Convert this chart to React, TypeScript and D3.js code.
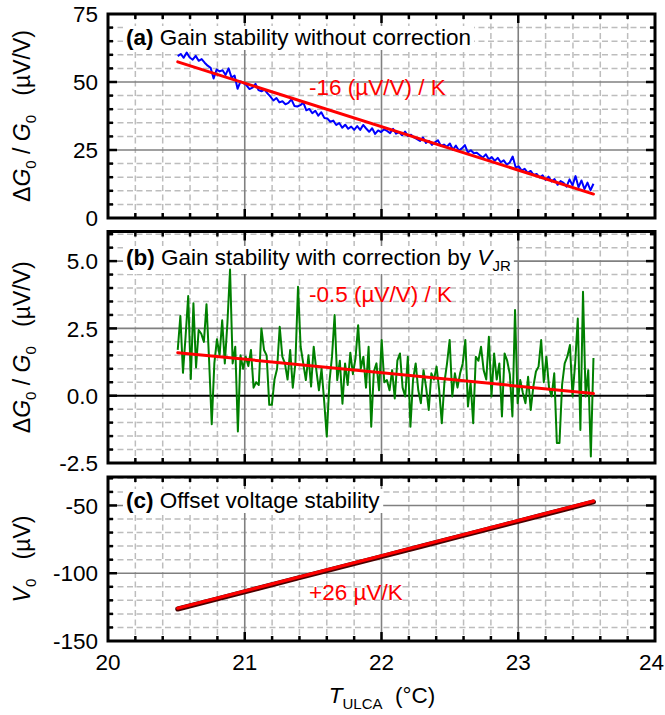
import React, { useEffect, useRef } from 'react';
import * as d3 from 'd3';

// ---------- data ----------
const T_START = 20.51;
const T_END = 23.55;

const xTicks = [20, 21, 22, 23, 24];
const yTicksA = [0, 25, 50, 75];
const yTicksB = [-2.5, 0, 2.5, 5];
const yTicksC = [-150, -100, -50];

// (a) gain without correction (µV/V), evenly spaced from T_START to T_END
const gainRaw = [
  59.5, 60.3, 58.9, 60.8, 59.0, 58.2, 59.6, 57.8, 58.4, 57.1,
  56.0, 55.2, 51.3, 54.6, 53.9, 54.3, 52.6, 55.0, 51.6, 52.4,
  47.5, 50.2, 49.6, 48.8, 47.4, 47.9, 49.3, 47.0, 46.6, 47.2,
  45.8, 44.6, 43.2, 44.1, 42.5, 42.9, 41.8, 42.3, 43.6, 41.2,
  41.0, 41.5, 42.4, 39.6, 40.1, 38.5, 39.4, 37.6, 38.9, 36.8,
  36.6, 35.4, 35.8, 34.2, 34.9, 33.2, 34.3, 32.8, 33.6, 32.4,
  33.8, 32.4, 34.2, 32.9, 31.7, 33.0, 30.9, 32.2, 31.6, 32.6,
  32.0, 31.2, 32.8, 31.0, 31.6, 30.4, 31.8, 30.1, 30.6, 29.6,
  29.0, 28.3, 29.6, 27.6, 28.4, 26.9, 27.8, 28.6, 26.5, 27.0,
  26.2, 27.4, 25.1, 26.6, 24.8, 25.6, 26.8, 24.1, 24.9, 23.8,
  24.0, 23.1, 22.2, 23.4, 21.6, 22.4, 21.0, 22.1, 20.5, 21.2,
  19.6, 20.4, 22.6, 18.6, 19.0, 17.4, 18.1, 16.6, 17.3, 15.8,
  16.2, 14.9, 15.7, 14.0, 15.2, 13.4, 14.3, 12.2, 13.6, 12.9,
  11.5, 14.2, 12.0, 15.4, 11.3, 13.8, 10.6, 13.0, 10.2, 12.6,
];

// (b) gain with correction by V_JR (µV/V)
const gainCorr = [
  1.70, 2.96, 0.85, 2.20, 3.70, 0.62, 3.43, 1.05, 2.44, 2.30,
  2.00, 3.40, 1.30, -1.06, 1.20, 2.10, 1.50, 2.80, 1.20, 2.70,
  4.69, 1.20, 1.82, -1.33, 1.50, 1.00, 1.45, 1.10, 1.70, 0.30,
  0.50, 0.40, 2.50, 1.70, 1.50, -0.34, -0.34, 0.60, 1.00, 2.56,
  1.45, 1.20, 0.60, 1.70, 0.30, 1.20, 4.05, 1.82, 1.20, 0.58,
  1.50, 0.34, 1.82, 0.95, 0.20, 1.00, -0.20, -1.52, 0.50, 1.45,
  3.00, 0.58, 1.30, -0.30, 1.20, 0.40, 1.60, 0.80, 1.40, 2.62,
  1.00, 1.45, 0.30, 1.82, -1.15, 0.90, 1.20, 0.20, 2.07, 0.50,
  0.58, 0.20, 0.95, -0.10, 1.30, 1.57, 0.30, -0.03, 1.45, -1.15,
  0.60, 1.20, 0.20, -0.28, 0.95, 0.30, -0.53, 0.83, 0.60, 1.08,
  0.20, -1.02, 0.50, 1.20, 2.07, -0.03, 0.83, 0.30, 0.83, 1.20,
  2.07, -0.40, 0.50, -1.02, 1.45, 1.30, 1.82, 0.95, 0.60, 2.19,
  -0.03, 1.57, 0.60, 1.20, -0.77, 1.57, 1.30, 0.80, -0.77, 3.18,
  -0.28, 0.58, 0.10, -0.28, 0.70, -0.53, 0.34, 0.90, 1.08, 2.07,
  0.50, 1.45, 0.30, -0.03, 0.83, -1.76, -1.76, 0.40, 1.20, 1.45,
  1.88, -0.03, 1.20, 2.87, -1.27, 3.86, -0.03, 0.95, -2.26, 1.40,
];

// (c) offset voltage (µV)
const offsetT = [20.51, 20.8, 21.1, 21.4, 21.7, 22.0, 22.3, 22.6, 22.9, 23.2, 23.55];
const offsetV = [-126.4, -118.9, -111.1, -103.3, -95.5, -87.7, -79.9, -72.1, -64.3, -56.5, -47.4];

// linear fits: value at T_START and at T_END
const fitA = [57.4, 8.8];
const fitB = [1.6, 0.08];
const fitC = [-125.8, -46.8];

const FONT = "'Liberation Sans', Arial, Helvetica, sans-serif";

function evenT(n: number) {
  return d3.range(n).map((i) => T_START + (i * (T_END - T_START)) / (n - 1));
}

export default function App() {
  const ref = useRef<SVGSVGElement>(null);

  useEffect(() => {
    const svg = d3.select(ref.current);
    svg.selectAll('*').remove();

    const x = d3.scaleLinear().domain([20, 24]).range([108, 655]);
    const X0 = x(20);
    const X1 = x(24);

    const xMinor = d3.range(20, 24.0001, 0.2).filter((v) => Math.abs(v - Math.round(v)) > 1e-6);
    const xMajorInner = xTicks.filter((v) => v > 20 && v < 24);

    type Panel = {
      key: string;
      domain: [number, number];
      range: [number, number];
      major: number;
      minor: number;
      ticks: number[];
      fmt: (v: number) => string;
    };

    const panels: Panel[] = [
      { key: 'a', domain: [0, 75], range: [218, 14], major: 25, minor: 5, ticks: yTicksA, fmt: (v) => String(v) },
      { key: 'b', domain: [-2.5, 6.1], range: [463, 231.5], major: 2.5, minor: 0.5, ticks: yTicksB, fmt: (v) => v.toFixed(1) },
      { key: 'c', domain: [-150, -29], range: [641, 477], major: 50, minor: 10, ticks: yTicksC, fmt: (v) => String(v) },
    ];

    const scales: Record<string, d3.ScaleLinear<number, number>> = {};

    panels.forEach((p) => {
      const y = d3.scaleLinear().domain(p.domain).range(p.range);
      scales[p.key] = y;
      const g = svg.append('g').attr('class', 'panel-' + p.key);
      const Y0 = p.range[1];
      const Y1 = p.range[0];
      const isMajor = (v: number) => Math.abs(v / p.major - Math.round(v / p.major)) < 1e-6;
      const yAll = d3
        .range(Math.ceil(p.domain[0] / p.minor) * p.minor, p.domain[1] + 1e-9, p.minor)
        .map((v) => +v.toFixed(6))
        .filter((v) => v > p.domain[0] + 1e-6 && v < p.domain[1] - 1e-6);
      const yMinor = yAll.filter((v) => !isMajor(v));
      const yMajor = yAll.filter((v) => isMajor(v));

      // minor grid
      const gm = g.append('g').attr('stroke', '#bdbdbd').attr('stroke-width', 1.5).attr('stroke-dasharray', '6 3.5');
      xMinor.forEach((v) => gm.append('line').attr('x1', x(v)).attr('x2', x(v)).attr('y1', Y0).attr('y2', Y1));
      yMinor.forEach((v) => gm.append('line').attr('x1', X0).attr('x2', X1).attr('y1', y(v)).attr('y2', y(v)));
      // major grid
      const gM = g.append('g').attr('stroke', '#808080').attr('stroke-width', 1.6);
      xMajorInner.forEach((v) => gM.append('line').attr('x1', x(v)).attr('x2', x(v)).attr('y1', Y0).attr('y2', Y1));
      yMajor.forEach((v) => {
        if (p.key === 'b' && Math.abs(v) < 1e-9) return;
        gM.append('line').attr('x1', X0).attr('x2', X1).attr('y1', y(v)).attr('y2', y(v));
      });
      if (p.key === 'b') {
        g.append('line').attr('x1', X0).attr('x2', X1).attr('y1', y(0)).attr('y2', y(0))
          .attr('stroke', '#000').attr('stroke-width', 2);
      }

      // y tick labels
      p.ticks.forEach((v) => {
        g.append('text').attr('x', 98).attr('y', y(v)).attr('dy', '0.36em')
          .attr('text-anchor', 'end').attr('font-family', FONT).attr('font-size', 22.5).attr('fill', '#000')
          .text(p.fmt(v));
      });

      (p as any).yMinor = yMinor;
      (p as any).yMajor = yMajor;
      (p as any).g = g;
    });

    // ---------- titles with white boxes ----------
    const addTitle = (g: any, yBase: number, build: (t: any) => void) => {
      const t = g.append('text').attr('x', 126).attr('y', yBase).attr('font-family', FONT)
        .attr('font-size', 22.5).attr('fill', '#000');
      build(t);
      const bb = (t.node() as SVGTextElement).getBBox();
      g.insert('rect', () => t.node())
        .attr('x', bb.x - 3).attr('y', bb.y + 1).attr('width', bb.width + 6).attr('height', bb.height - 1)
        .attr('fill', '#fff');
    };
    const pg = (k: string) => (panels.find((p) => p.key === k) as any).g;

    addTitle(pg('a'), 45, (t) => {
      t.append('tspan').attr('font-weight', 'bold').text('(a)');
      t.append('tspan').text('\u00a0Gain stability without correction');
    });
    addTitle(pg('b'), 265, (t) => {
      t.append('tspan').attr('font-weight', 'bold').text('(b)');
      t.append('tspan').text('\u00a0Gain stability with correction by\u00a0');
      t.append('tspan').attr('font-style', 'italic').text('V');
      t.append('tspan').attr('font-size', 15).attr('dy', 6).text('JR');
    });
    addTitle(pg('c'), 508, (t) => {
      t.append('tspan').attr('font-weight', 'bold').text('(c)');
      t.append('tspan').text('\u00a0Offset voltage stability');
    });

    // ---------- data ----------
    const yA = scales['a'];
    const yB = scales['b'];
    const yC = scales['c'];

    const tA = evenT(gainRaw.length);
    const lineA = d3.line<number>().x((_, i) => x(tA[i])).y((d) => yA(d));
    pg('a').append('path').attr('d', lineA(gainRaw)).attr('fill', 'none')
      .attr('stroke', '#0000ff').attr('stroke-width', 2).attr('stroke-linejoin', 'round');

    const tB = evenT(gainCorr.length);
    const lineB = d3.line<number>().x((_, i) => x(tB[i])).y((d) => yB(d));
    pg('b').append('path').attr('d', lineB(gainCorr)).attr('fill', 'none')
      .attr('stroke', '#008000').attr('stroke-width', 2).attr('stroke-linejoin', 'round');

    const lineC = d3.line<number>().x((_, i) => x(offsetT[i])).y((d) => yC(d));
    pg('c').append('path').attr('d', lineC(offsetV)).attr('fill', 'none')
      .attr('stroke', '#4a0000').attr('stroke-width', 5).attr('stroke-linecap', 'round');

    // fits
    const fitLine = (g: any, ys: any, f: number[], w: number) =>
      g.append('line').attr('x1', x(T_START)).attr('x2', x(T_END)).attr('y1', ys(f[0])).attr('y2', ys(f[1]))
        .attr('stroke', '#ff0000').attr('stroke-width', w).attr('stroke-linecap', 'round');
    fitLine(pg('a'), yA, fitA, 3);
    fitLine(pg('b'), yB, fitB, 3);
    fitLine(pg('c'), yC, fitC, 3.2);

    // red annotations
    const red = (g: any, xx: number, yy: number, s: string) =>
      g.append('text').attr('x', xx).attr('y', yy).attr('font-family', FONT).attr('font-size', 22.5)
        .attr('fill', '#ff0000').text(s);
    red(pg('a'), 309, 95, '-16 (\u00b5V/V)\u00a0/\u00a0K');
    red(pg('b'), 309, 302, '-0.5 (\u00b5V/V)\u00a0/\u00a0K');
    red(pg('c'), 309, 600, '+26 \u00b5V/K');

    // ---------- borders and ticks ----------
    panels.forEach((p: any) => {
      const g = p.g;
      const y = scales[p.key];
      const Y0 = p.range[1];
      const Y1 = p.range[0];
      const tk = g.append('g').attr('stroke', '#000').attr('stroke-width', 2.5);
      const majL = 9;
      const minL = 5;
      const xT = [...xMinor.map((v) => [v, minL]), ...xMajorInner.map((v) => [v, majL])];
      xT.forEach(([v, L]) => {
        tk.append('line').attr('x1', x(v)).attr('x2', x(v)).attr('y1', Y1).attr('y2', Y1 - L);
        tk.append('line').attr('x1', x(v)).attr('x2', x(v)).attr('y1', Y0).attr('y2', Y0 + L);
      });
      const yT = [...p.yMinor.map((v: number) => [v, minL]), ...p.yMajor.map((v: number) => [v, majL])];
      yT.forEach(([v, L]: number[]) => {
        tk.append('line').attr('x1', X0).attr('x2', X0 + L).attr('y1', y(v)).attr('y2', y(v));
        tk.append('line').attr('x1', X1).attr('x2', X1 - L).attr('y1', y(v)).attr('y2', y(v));
      });
      g.append('rect').attr('x', X0).attr('y', Y0).attr('width', X1 - X0).attr('height', Y1 - Y0)
        .attr('fill', 'none').attr('stroke', '#000').attr('stroke-width', 3);
    });

    // x tick labels (last one kept inside the picture)
    xTicks.forEach((v, i) => {
      const last = i === xTicks.length - 1;
      svg.append('text').attr('x', last ? 664 : x(v)).attr('y', 670)
        .attr('text-anchor', last ? 'end' : 'middle')
        .attr('font-family', FONT).attr('font-size', 22.5).text(String(v));
    });

    // x axis title
    const xt = svg.append('text').attr('x', 382).attr('y', 703).attr('text-anchor', 'middle')
      .attr('font-family', FONT).attr('font-size', 22.5);
    xt.append('tspan').attr('font-style', 'italic').text('T');
    xt.append('tspan').attr('font-size', 15).attr('dy', 6).text('ULCA');
    xt.append('tspan').attr('dy', -6).text('\u00a0\u00a0(\u00b0C)');

    // y axis titles
    const gainLabel = (cy: number) => {
      const t = svg.append('text').attr('transform', `translate(30,${cy}) rotate(-90)`)
        .attr('text-anchor', 'middle').attr('font-family', FONT).attr('font-size', 23);
      t.append('tspan').text('\u0394');
      t.append('tspan').attr('font-style', 'italic').text('G');
      t.append('tspan').attr('font-size', 15).attr('dy', 6).text('0');
      t.append('tspan').attr('dy', -6).text('\u00a0/\u00a0');
      t.append('tspan').attr('font-style', 'italic').text('G');
      t.append('tspan').attr('font-size', 15).attr('dy', 6).text('0');
      t.append('tspan').attr('dy', -6).text('\u00a0\u00a0\u00a0(\u00b5V/V)');
    };
    gainLabel((218 + 14) / 2);
    gainLabel((463 + 231.5) / 2);
    const vt = svg.append('text').attr('transform', `translate(30,${(641 + 477) / 2}) rotate(-90)`)
      .attr('text-anchor', 'middle').attr('font-family', FONT).attr('font-size', 23);
    vt.append('tspan').attr('font-style', 'italic').text('V');
    vt.append('tspan').attr('font-size', 15).attr('dy', 6).text('0');
    vt.append('tspan').attr('dy', -6).text('\u00a0\u00a0\u00a0(\u00b5V)');
  }, []);

  return (
    <svg
      ref={ref}
      width={665}
      height={715}
      style={{ position: 'absolute', left: 0, top: 0, background: '#fff' }}
    />
  );
}
